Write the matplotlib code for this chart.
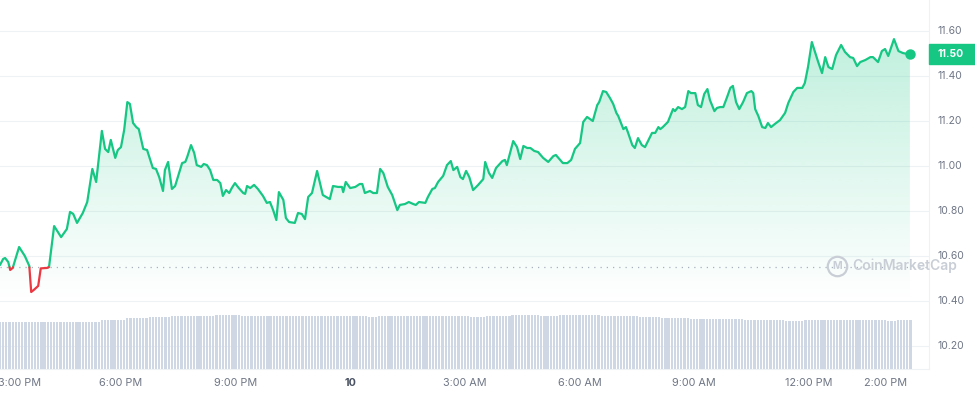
# 24h price chart, CoinMarketCap style
# price line + fading fill, open-price dotted line, volume bars underneath

import datetime as dt
import numpy as np
import matplotlib
matplotlib.use("Agg")
import matplotlib.pyplot as plt
import matplotlib.dates as mdates
from matplotlib import transforms
from matplotlib.colors import to_rgb
from matplotlib.lines import Line2D
from matplotlib.patches import Rectangle

plt.rcParams['font.family'] = ['Inter', 'DejaVu Sans']

# colours
green = "#16c784"
red = "#ea3943"
grid_col = "#eff2f5"
bar_col = "#cfd6e4"
label_col = "#6f7685"

# data (minutes after 14:50 on the 9th)
start = dt.datetime(2024, 10, 9, 14, 50)
minutes = [0, 5, 8, 13, 16, 20, 30, 39, 46, 49, 53, 60, 64, 74, 77,
           85, 96, 105, 110, 115, 121, 130, 137, 145, 151, 160, 165, 170, 174, 181, 185, 190, 195, 200, 204,
           209, 214, 218, 225, 231, 240, 245, 250, 256, 259, 264, 270, 275, 286, 291, 294, 300, 305, 309, 316,
           320, 325, 330, 335, 341, 346, 350, 355, 360, 364, 369, 375, 382, 385, 388, 393, 399, 405, 413, 419,
           424, 429, 434, 438, 445, 449, 454, 463, 468, 474, 479, 484, 490, 498, 507, 518,
           523, 531, 537, 539, 543, 550, 558, 565, 569, 573, 581, 586, 592, 597, 602, 609, 616, 624, 628, 636,
           642, 649, 653, 658, 668, 672, 679, 683, 688, 696, 702, 708, 712, 718, 723, 727, 732, 737, 743, 751,
           759, 762, 768, 773, 779, 789, 793, 796, 806, 812, 817, 822, 828, 833, 839, 845, 853, 861, 869, 873,
           884, 891, 897, 903, 911, 916, 922, 931, 938, 941, 947, 952, 958, 963, 968, 971, 979, 983, 986, 993,
           997, 1002, 1008, 1013, 1024, 1029, 1034,
           1037, 1041, 1049, 1057, 1060, 1065, 1071, 1076, 1081, 1085, 1092, 1096, 1101, 1106, 1111, 1115,
           1122, 1126, 1131, 1136, 1142, 1147, 1151, 1156, 1161, 1167, 1173, 1180, 1183, 1186, 1191, 1197,
           1202, 1206, 1211, 1217, 1225, 1233, 1238, 1246, 1252, 1260, 1264, 1269, 1275, 1280, 1285, 1291,
           1296, 1301, 1307, 1313, 1321, 1327, 1335, 1340, 1346, 1351, 1359, 1367, 1371, 1379, 1385, 1390,
           1395, 1404, 1411, 1418, 1425, 1429]
price = [10.560, 10.587, 10.591, 10.573, 10.538, 10.547, 10.640, 10.600, 10.556, 10.440, 10.449, 10.467,
         10.545, 10.547, 10.551,
         10.733, 10.684, 10.720, 10.796, 10.787, 10.747, 10.791, 10.840, 10.987, 10.929,
         11.156, 11.076, 11.062, 11.116, 11.036, 11.071, 11.084, 11.160, 11.284, 11.276,
         11.191, 11.173, 11.164, 11.076, 11.071, 10.991, 10.987, 10.951, 10.889, 10.982,
         11.018, 10.898, 10.911, 11.013, 11.018, 11.040, 11.093, 11.058, 11.004, 10.996,
         11.009, 11.004, 10.982, 10.938, 10.938, 10.924, 10.867, 10.893, 10.880, 10.902,
         10.924, 10.902, 10.880, 10.876, 10.911, 10.902, 10.916, 10.898, 10.867, 10.836,
         10.840, 10.804, 10.760, 10.884, 10.849, 10.769, 10.751, 10.747, 10.791, 10.787,
         10.764, 10.862, 10.880, 10.978, 10.871, 10.853,
         10.911, 10.907, 10.907, 10.884, 10.929, 10.902, 10.907, 10.920, 10.920, 10.880,
         10.889, 10.880, 10.880, 10.987, 10.969, 10.907, 10.871, 10.804, 10.827, 10.831,
         10.840, 10.831, 10.827, 10.840, 10.836, 10.862, 10.898, 10.902, 10.929, 10.956,
         11.004, 11.022, 10.982, 10.996, 10.951, 10.942, 10.978, 10.951, 10.893, 10.916,
         10.942, 11.018, 10.969, 10.947, 10.991, 11.022, 11.027, 11.004, 11.111, 11.084,
         11.031, 11.089, 11.080, 11.080, 11.067, 11.062, 11.036, 11.018, 11.044, 11.049,
         11.013, 11.013, 11.027, 11.076, 11.102, 11.196, 11.218, 11.200, 11.271, 11.284,
         11.333, 11.329, 11.302, 11.276, 11.236, 11.222, 11.164, 11.173, 11.151, 11.093,
         11.080, 11.124, 11.093, 11.084, 11.147, 11.147, 11.173,
         11.164, 11.173, 11.196, 11.253, 11.244, 11.262, 11.253, 11.262, 11.333, 11.324,
         11.324, 11.271, 11.262, 11.320, 11.342, 11.293, 11.244, 11.258, 11.262, 11.262,
         11.307, 11.347, 11.356, 11.284, 11.253, 11.284, 11.324, 11.333, 11.324, 11.253,
         11.222, 11.173, 11.169, 11.191, 11.173, 11.187, 11.204, 11.236, 11.280, 11.329,
         11.347, 11.347, 11.369, 11.440, 11.551, 11.507, 11.462, 11.413, 11.484, 11.440,
         11.431, 11.493, 11.538, 11.507, 11.484, 11.480, 11.444, 11.462, 11.471, 11.484,
         11.484, 11.462, 11.511, 11.520, 11.489, 11.564, 11.511, 11.502, 11.498, 11.500]
open_price = 10.55
last_price = 11.50

# volume, read as plateaus: level holds from vol_start (minutes) until the next one
vol_start = [0, 86, 157, 200, 232, 270, 338, 377, 576, 591, 738, 762, 801, 848, 880, 942,
             1005, 1037, 1084, 1170, 1233, 1261, 1393, 1409]
vol_level = [47, 47.5, 49, 51, 52, 53, 54, 53, 52, 53, 52, 53, 54, 53, 54, 53,
             52, 51, 50, 49.5, 48, 49, 48, 49]
bar_step = 5  # minutes per volume bar
last_bar = 1430

y_ticks = [10.20, 10.40, 10.60, 10.80, 11.00, 11.20, 11.40, 11.60]
tick_times = [dt.datetime(2024, 10, 9, 15), dt.datetime(2024, 10, 9, 18), dt.datetime(2024, 10, 9, 21),
              dt.datetime(2024, 10, 10, 0), dt.datetime(2024, 10, 10, 3), dt.datetime(2024, 10, 10, 6),
              dt.datetime(2024, 10, 10, 9), dt.datetime(2024, 10, 10, 12), dt.datetime(2024, 10, 10, 14)]
tick_labels = ["3:00 PM", "6:00 PM", "9:00 PM", "10", "3:00 AM", "6:00 AM", "9:00 AM", "12:00 PM", "2:00 PM"]


def split_at_base(t, p, base):
    # add the crossing points so green / red meet exactly on the open line
    tt, pp = [t[0]], [p[0]]
    for i in range(1, len(p)):
        if (p[i - 1] - base) * (p[i] - base) < 0:
            f = (base - p[i - 1]) / (p[i] - p[i - 1])
            tt.append(t[i - 1] + f * (t[i] - t[i - 1]))
            pp.append(base)
        tt.append(t[i])
        pp.append(p[i])
    return np.array(tt), np.array(pp)


W, H = 975, 396
fig = plt.figure(figsize=(W / 100, H / 100), dpi=100)
ax_r, ax_b = 929, 369  # right edge / bottom edge of plot, px
ax = fig.add_axes([0, 1 - ax_b / H, ax_r / W, ax_b / H])

t0 = mdates.date2num(start)
x = t0 + np.array(minutes) / 1440
p = np.array(price)
y_lo, y_hi = 10.0978, 11.7378
x_hi = t0 + 1459 / 1440

for v in y_ticks:
    ax.axhline(v, color=grid_col, lw=0.8, zorder=0)

# gradient fill under the line
grad = np.zeros((256, 1, 4))
grad[..., :3] = to_rgb(green)
grad[:, 0, 3] = np.linspace(0.28, 0.0, 256)
im = ax.imshow(grad, extent=[t0, x_hi, 10.40, 11.62], aspect='auto', origin='upper', zorder=1,
               interpolation='bilinear')
poly = ax.fill_between(x, p, y_lo, color='none', lw=0)
im.set_clip_path(poly.get_paths()[0], transform=ax.transData)

ax.axhline(open_price, color="#a9b1bf", lw=0.9, ls=(0, (1, 4)), zorder=2)

tt, pp = split_at_base(x, p, open_price)
ax.plot(tt, np.where(pp >= open_price, pp, np.nan), color=green, lw=1.6, zorder=3,
        solid_joinstyle='round', solid_capstyle='round')
ax.plot(tt, np.where(pp <= open_price, pp, np.nan), color=red, lw=1.6, zorder=3,
        solid_joinstyle='round', solid_capstyle='round')
ax.plot(x[-1], p[-1], 'o', ms=6.5, color=green, zorder=4)

ax.set_xlim(t0, x_hi)
ax.set_ylim(y_lo, y_hi)
ax.set_xticks([])
ax.set_yticks([])
for s in ['top', 'left']:
    ax.spines[s].set_visible(False)
for s in ['right', 'bottom']:
    ax.spines[s].set_color(grid_col)
    ax.spines[s].set_linewidth(0.8)

# volume bars on their own scale
ax2 = ax.twinx()
bar_min = np.arange(0, last_bar + 1, bar_step)
vols = np.array(vol_level)[np.searchsorted(vol_start, bar_min, side='right') - 1]
ax2.bar(t0 + bar_min / 1440, vols, width=3.5 / 1440, color=bar_col, lw=0, zorder=2)
ax2.set_ylim(0, ax_b)
ax2.set_xlim(t0, x_hi)
ax2.set_yticks([])
for s in ax2.spines.values():
    s.set_visible(False)

# x labels
lab_y = (ax_b - 383) / ax_b
for i, (tm, lab) in enumerate(zip(tick_times, tick_labels)):
    bold = lab == "10"
    kw = dict(fontsize=7.8, color="#4a5263" if bold else label_col,
              fontweight='bold' if bold else 'normal', va='center')
    if i == 0:
        # first label is pushed inside the chart
        ax.text(-2 / ax_r, lab_y, lab, transform=ax.transAxes, ha='left', **kw)
    else:
        ax.text(mdates.date2num(tm), lab_y, lab, transform=ax.get_xaxis_transform(), ha='center', **kw)

# y labels on the right
ytrans = transforms.blended_transform_factory(fig.transFigure, ax.transData)
for v in y_ticks:
    ax.text(938 / W, v, f"{v:.2f}", transform=ytrans, ha='left', va='center',
            fontsize=7.5, color=label_col, clip_on=False)

# current price badge
badge_y = ax.transData.transform((0, last_price))[1] / fig.dpi / (H / 100)
fig.patches.append(Rectangle((929 / W, badge_y - 10 / H), 46 / W, 20 / H, transform=fig.transFigure,
                             color=green, zorder=5))
fig.text(951 / W, badge_y, f"{last_price:.2f}", ha='center', va='center', fontsize=7.5,
         fontweight='bold', color='white', zorder=6)

# watermark
wm_col = "#c9ced6"
fig.add_artist(Line2D([837 / W], [1 - 265.5 / H], marker='o', ms=14, mfc='none', mec=wm_col, mew=1.6,
                      transform=fig.transFigure))
fig.text(837 / W, 1 - 266 / H, "M", ha='center', va='center', fontsize=7.5, fontweight='bold', color=wm_col)
fig.text(852 / W, 1 - 266 / H, "CoinMarketCap", ha='left', va='center', fontsize=10,
         fontweight='semibold', color=wm_col)

fig.savefig("out.png", dpi=100)
